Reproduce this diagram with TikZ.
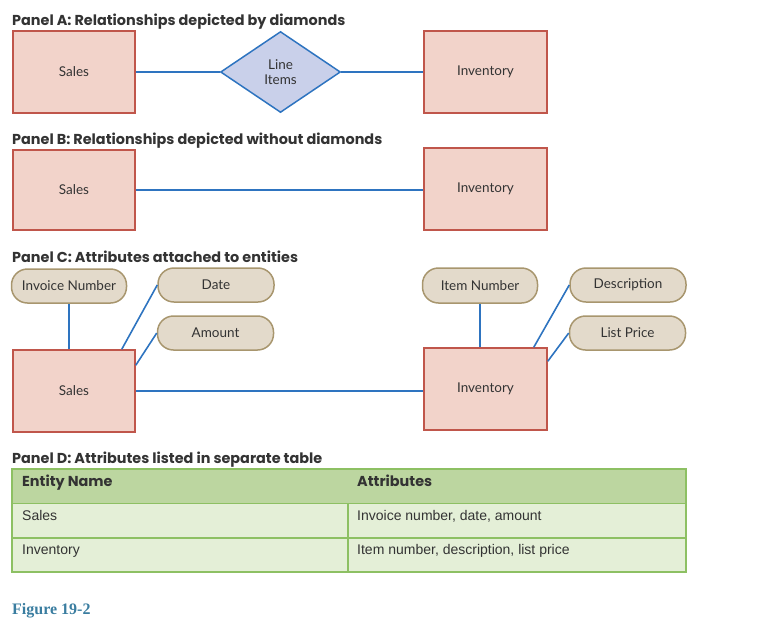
\documentclass[tikz,border=0pt]{standalone}
\usepackage{fontspec}
\setmainfont{Lato}
\newfontfamily\titlefont{Poppins}
\newfontfamily\tablefont{Liberation Sans}
\newfontfamily\figfont{Liberation Serif}
\usetikzlibrary{shapes.geometric,calc}
\definecolor{entfill}{HTML}{F2D3CA}
\definecolor{entdraw}{HTML}{C0564B}
\definecolor{relfill}{HTML}{C9D0EA}
\definecolor{linkblue}{HTML}{2E74C0}
\definecolor{pillfill}{HTML}{E3DACB}
\definecolor{pilldraw}{HTML}{A8966E}
\definecolor{hdrfill}{HTML}{BCD6A0}
\definecolor{rowfill}{HTML}{E4EFD7}
\definecolor{tabdraw}{HTML}{8DC063}
\definecolor{figcol}{HTML}{3A7DA0}
\definecolor{txt}{HTML}{333333}
\tikzset{
  entity/.style={draw=entdraw, fill=entfill, line width=1.5pt, minimum width=122pt, minimum height=82pt, inner sep=0pt, font=\fontsize{13.5}{15}\selectfont, text=txt},
  rel/.style={diamond, draw=linkblue, fill=relfill, line width=1.5pt, minimum width=120pt, minimum height=81pt, inner sep=0pt, align=center, font=\fontsize{13.5}{15}\selectfont, text=txt},
  pill/.style={draw=pilldraw, fill=pillfill, line width=1.5pt, rounded corners=16pt, minimum width=115pt, minimum height=34pt, inner sep=0pt, font=\fontsize{13.5}{15}\selectfont, text=txt},
  link/.style={draw=linkblue, line width=1.6pt},
  paneltitle/.style={anchor=base west, inner sep=0pt, font=\titlefont\bfseries\fontsize{14.4}{16}\selectfont, text=txt},
  cell/.style={anchor=base west, inner sep=0pt, font=\tablefont\fontsize{14}{16}\selectfont, text=txt},
  hcell/.style={anchor=base west, inner sep=0pt, font=\titlefont\bfseries\fontsize{14.4}{16}\selectfont, text=txt},
}
\begin{document}
\begin{tikzpicture}[x=1pt,y=-1pt]
\useasboundingbox (0,0) rectangle (775,619);
% Panel A
\node[paneltitle] (tA) at (12,25) {Panel A: Relationships depicted by diamonds};
\node[entity] (salesA) at (74,72) {Sales};
\node[entity, minimum width=123pt] (invA) at (485.5,72) {Inventory};
\node[rel] (li) at (280.5,72) {Line\\Items};
\draw[link] (salesA.east) -- (li.west);
\draw[link] (li.east) -- (invA.west);
% Panel B
\node[paneltitle] (tB) at (12,144) {Panel B: Relationships depicted without diamonds};
\node[entity, minimum height=80pt] (salesB) at (74,190) {Sales};
\node[entity, minimum width=123pt] (invB) at (485.5,189) {Inventory};
\draw[link] (salesB.east) -- (salesB.east -| invB.west);
% Panel C
\node[paneltitle] (tC) at (12,262) {Panel C: Attributes attached to entities};
\node[entity] (salesC) at (74,391) {Sales};
\node[entity, minimum width=123pt] (invC) at (485.5,389) {Inventory};
\node[pill] (invno) at (69,286) {Invoice Number};
\node[pill, minimum width=116pt] (date) at (216,285) {Date};
\node[pill, minimum width=116pt] (amount) at (215.5,333) {Amount};
\node[pill, minimum height=35pt] (itemno) at (480,285.5) {Item Number};
\node[pill, minimum width=116pt] (desc) at (628,285) {Description};
\node[pill, minimum width=116pt] (price) at (627.5,333) {List Price};
\draw[link] (salesC.east) -- (salesC.east -| invC.west);
\draw[link] (invno.south) -- (invno.south |- salesC.north);
\draw[link] ($(salesC.north east)+(-14,0)$) -- (date.west);
\draw[link] ($(salesC.north east)+(0,16)$) -- (amount.west);
\draw[link] (itemno.south) -- (itemno.south |- invC.north);
\draw[link] ($(invC.north east)+(-14,0)$) -- (desc.west);
\draw[link] ($(invC.north east)+(0,14)$) -- (price.west);
% Panel D
\node[paneltitle] (tD) at (12,463) {Panel D: Attributes listed in separate table};
\fill[hdrfill] (12,469) rectangle (686,503.5);
\fill[rowfill] (12,503.5) rectangle (686,572);
\draw[tabdraw, line width=1.2pt] (12,503.5) -- (686,503.5);
\draw[tabdraw, line width=1.2pt] (12,538) -- (686,538);
\draw[tabdraw, line width=1.2pt] (348,503.5) -- (348,572);
\draw[tabdraw, line width=1.8pt] (12,469) rectangle (686,572);
\node[hcell] (h1) at (22,486) {Entity Name};
\node[hcell] (h2) at (357,486) {Attributes};
\node[cell] (r1a) at (22,520) {Sales};
\node[cell] (r1b) at (357,520) {Invoice number, date, amount};
\node[cell] (r2a) at (22,554) {Inventory};
\node[cell] (r2b) at (357,554) {Item number, description, list price};
% caption
\node[anchor=base west, inner sep=0pt, text=figcol, font=\figfont\bfseries\fontsize{16}{18}\selectfont] (fig) at (12,614) {Figure 19-2};
\end{tikzpicture}
\end{document}
